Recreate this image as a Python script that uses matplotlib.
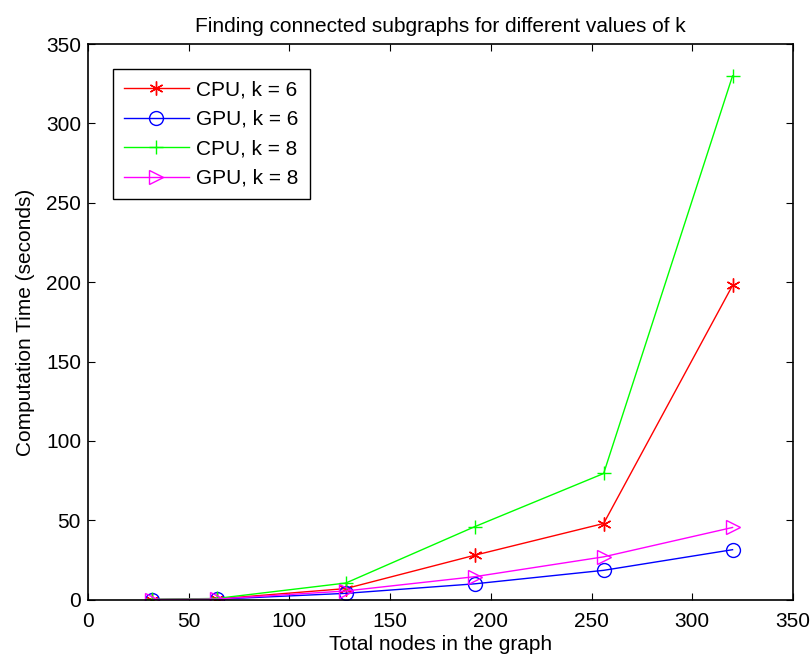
import numpy as np
import matplotlib
matplotlib.use("Agg")
import matplotlib.pyplot as plt

plt.rcParams["font.family"] = ["Liberation Sans", "DejaVu Sans"]

# data
nodes = [32, 64, 128, 192, 256, 320]
cpu_k6 = [0.1, 0.5, 7, 28, 48, 198]
gpu_k6 = [0.1, 0.3, 4, 10, 18.5, 31.5]
cpu_k8 = [0.2, 0.8, 10.5, 46, 79.5, 330]
gpu_k8 = [0.1, 0.4, 5.5, 14.5, 27, 45.5]

fig = plt.figure(figsize=(8.1, 6.58), dpi=100)
ax = fig.add_axes([0.1086, 0.0886, 0.8704, 0.8444])

ax.plot(nodes, cpu_k6, color="#ff0000", marker=(6, 2, 0), markersize=10, lw=1,
        label="CPU, k = 6")
ax.plot(nodes, gpu_k6, color="#0000ff", marker="o", markersize=10, mfc="none", lw=1,
        label="GPU, k = 6")
ax.plot(nodes, cpu_k8, color="#00ff00", marker="+", markersize=10, mew=1, lw=1,
        label="CPU, k = 8")
ax.plot(nodes, gpu_k8, color="#ff00ff", marker=">", markersize=10, mfc="none", lw=1,
        label="GPU, k = 8")

ax.set_xlim(0, 350)
ax.set_ylim(0, 350)
ax.set_xticks(np.arange(0, 351, 50))
ax.set_yticks(np.arange(0, 351, 50))
ax.tick_params(direction="in", top=True, right=True, length=5, labelsize=15)
ax.tick_params(axis="x", pad=8.5)
ax.tick_params(axis="y", pad=5)
for s in ax.spines.values():
    s.set_linewidth(1.2)

ax.set_xlabel("Total nodes in the graph", fontsize=15, labelpad=3)
ax.set_ylabel("Computation Time (seconds)", fontsize=15, labelpad=8)
ax.set_title("Finding connected subgraphs for different values of k", fontsize=15, pad=9)

leg = ax.legend(loc="upper left", bbox_to_anchor=(0.035, 0.955), fontsize=15,
                fancybox=False, framealpha=1, edgecolor="k", handlelength=3.1,
                handletextpad=0.35, borderpad=0.55, labelspacing=0.5,
                borderaxespad=0)
leg.get_frame().set_linewidth(1)

fig.savefig("out.png", dpi=100)
